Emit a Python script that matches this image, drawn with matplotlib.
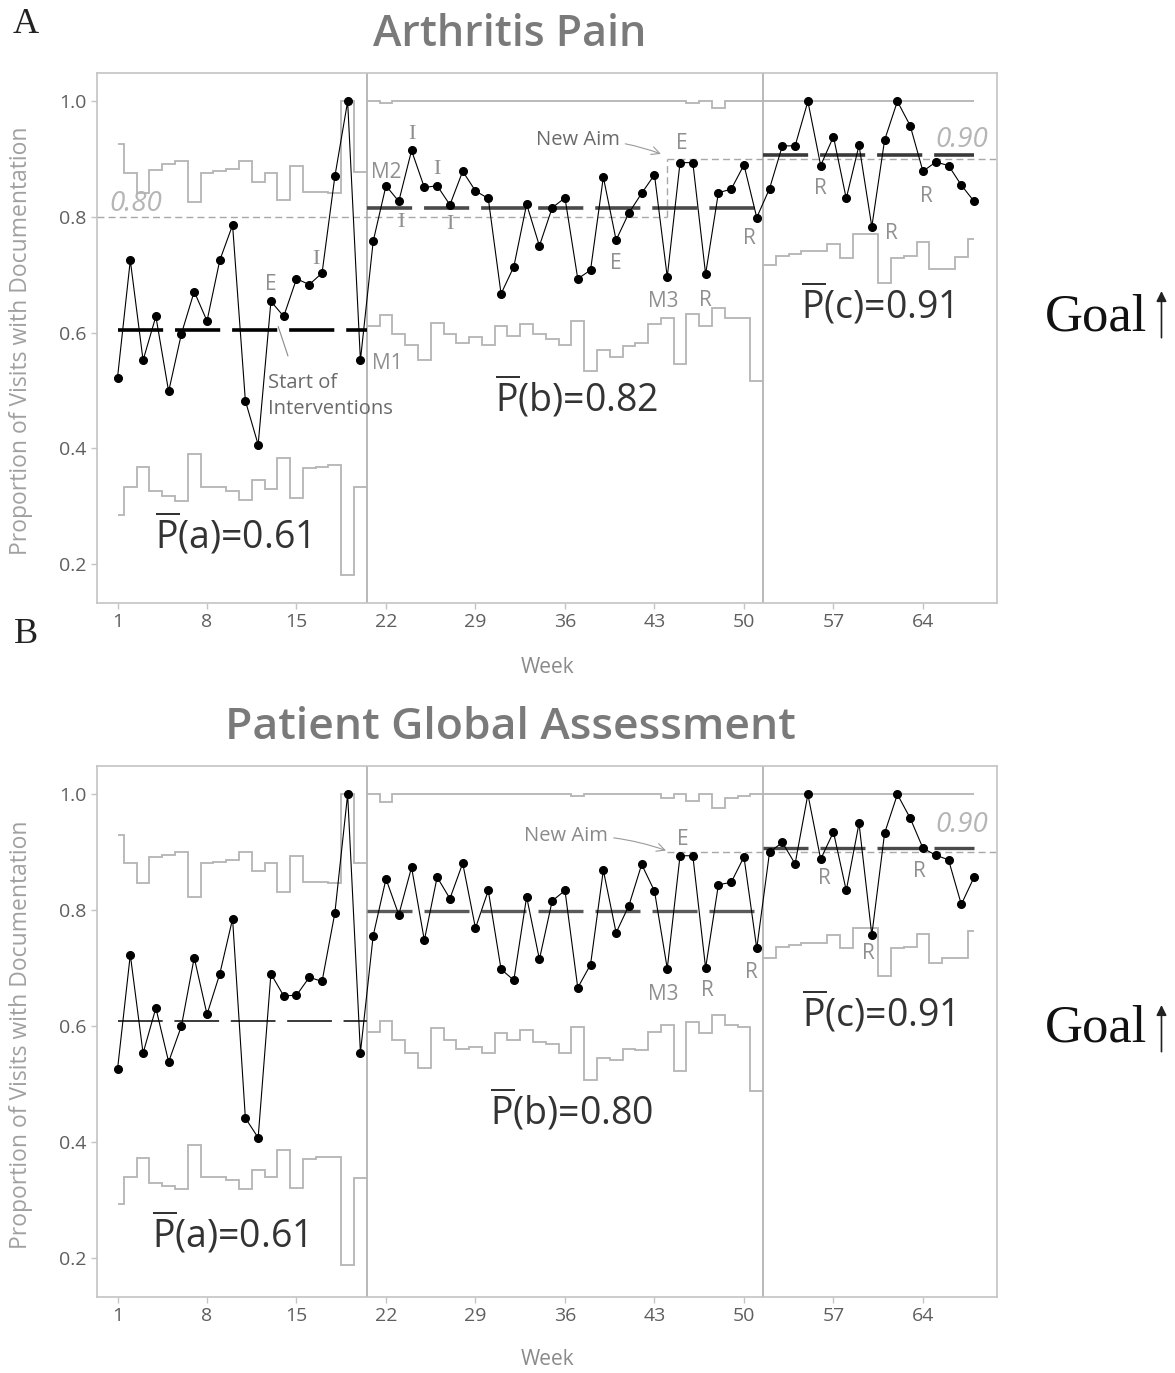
import matplotlib
matplotlib.use("Agg")
import matplotlib.pyplot as plt

# ---------------- data ----------------
weeks_a = list(range(1, 21))
weeks_b = list(range(21, 52))
weeks_c = list(range(52, 69))
phase_edges = [1, 20.5, 51.5, 68]
x_ticks = [1, 8, 15, 22, 29, 36, 43, 50, 57, 64]
y_ticks = [0.2, 0.4, 0.6, 0.8, 1.0]

# Panel A: Arthritis Pain
pain_a = [0.522, 0.725, 0.552, 0.628, 0.498, 0.598, 0.671, 0.620, 0.725, 0.786,
          0.482, 0.406, 0.654, 0.628, 0.693, 0.683, 0.703, 0.870, 1.000, 0.552]
pain_b = [0.758, 0.854, 0.827, 0.915, 0.851, 0.854, 0.821, 0.879, 0.845, 0.832,
          0.667, 0.714, 0.822, 0.750, 0.816, 0.833, 0.693, 0.708, 0.869, 0.760,
          0.807, 0.841, 0.873, 0.696, 0.894, 0.894, 0.701, 0.842, 0.848, 0.890, 0.799]
pain_c = [0.849, 0.923, 0.923, 1.000, 0.889, 0.939, 0.832, 0.924, 0.783, 0.933,
          1.000, 0.958, 0.879, 0.895, 0.889, 0.855, 0.827]
pain_ucl_a = [0.927, 0.876, 0.841, 0.882, 0.891, 0.897, 0.826, 0.876, 0.879, 0.883,
              0.897, 0.861, 0.876, 0.830, 0.888, 0.844, 0.844, 0.841, 1.000, 0.877]
pain_lcl_a = [0.284, 0.332, 0.368, 0.326, 0.317, 0.308, 0.390, 0.332, 0.332, 0.326,
              0.311, 0.344, 0.329, 0.383, 0.314, 0.365, 0.367, 0.370, 0.180, 0.333]
pain_ucl_b = [1.000, 0.998, 1.000, 1.000, 1.000, 1.000, 1.000, 1.000, 1.000, 1.000,
              1.000, 1.000, 1.000, 1.000, 1.000, 1.000, 1.000, 1.000, 1.000, 1.000,
              1.000, 1.000, 1.000, 1.000, 1.000, 0.998, 1.000, 0.988, 1.000, 1.000, 1.000]
pain_lcl_b = [0.612, 0.631, 0.597, 0.579, 0.552, 0.617, 0.597, 0.582, 0.592, 0.579,
              0.612, 0.594, 0.615, 0.597, 0.588, 0.579, 0.620, 0.534, 0.570, 0.558,
              0.576, 0.582, 0.615, 0.626, 0.546, 0.632, 0.612, 0.643, 0.626, 0.626, 0.516]
pain_ucl_c = [1.000] * 17
pain_lcl_c = [0.717, 0.733, 0.736, 0.741, 0.741, 0.754, 0.729, 0.770, 0.770, 0.686,
              0.729, 0.733, 0.757, 0.710, 0.710, 0.731, 0.762]
pain_center = [0.605, 0.815, 0.908]
pain_pbar = ["0.61", "0.82", "0.91"]

# Panel B: Patient Global Assessment
pga_a = [0.525, 0.723, 0.553, 0.631, 0.538, 0.600, 0.718, 0.620, 0.690, 0.785,
         0.441, 0.407, 0.690, 0.652, 0.653, 0.684, 0.677, 0.795, 1.000, 0.554]
pga_b = [0.756, 0.854, 0.792, 0.874, 0.748, 0.857, 0.820, 0.881, 0.769, 0.834,
         0.698, 0.679, 0.823, 0.715, 0.816, 0.834, 0.666, 0.706, 0.869, 0.761,
         0.808, 0.879, 0.833, 0.699, 0.894, 0.894, 0.700, 0.844, 0.848, 0.892, 0.734]
pga_c = [0.900, 0.917, 0.880, 1.000, 0.888, 0.935, 0.834, 0.950, 0.757, 0.933,
         1.000, 0.959, 0.907, 0.895, 0.887, 0.810, 0.857]
pga_ucl_a = [0.929, 0.882, 0.847, 0.891, 0.895, 0.901, 0.823, 0.882, 0.883, 0.887,
             0.901, 0.867, 0.881, 0.832, 0.894, 0.849, 0.849, 0.847, 1.000, 0.882]
pga_lcl_a = [0.293, 0.340, 0.372, 0.328, 0.324, 0.318, 0.395, 0.339, 0.339, 0.334,
             0.318, 0.352, 0.339, 0.386, 0.321, 0.371, 0.373, 0.374, 0.188, 0.338]
pga_ucl_b = [1.000, 0.987, 1.000, 1.000, 1.000, 1.000, 1.000, 1.000, 1.000, 1.000,
             1.000, 1.000, 1.000, 1.000, 1.000, 1.000, 0.997, 1.000, 1.000, 1.000,
             1.000, 1.000, 1.000, 0.994, 1.000, 0.989, 1.000, 0.977, 0.994, 0.997, 1.000]
pga_lcl_b = [0.590, 0.609, 0.575, 0.554, 0.528, 0.596, 0.575, 0.560, 0.563, 0.554,
             0.587, 0.575, 0.593, 0.572, 0.568, 0.553, 0.599, 0.507, 0.545, 0.541,
             0.560, 0.558, 0.590, 0.602, 0.522, 0.607, 0.587, 0.619, 0.602, 0.599, 0.488]
pga_ucl_c = [1.000] * 17
pga_lcl_c = [0.717, 0.736, 0.740, 0.743, 0.743, 0.757, 0.734, 0.770, 0.770, 0.687,
             0.734, 0.737, 0.758, 0.708, 0.718, 0.718, 0.764]
pga_center = [0.609, 0.798, 0.907]
pga_pbar = ["0.61", "0.80", "0.91"]

old_aim = 0.80
new_aim = 0.90
new_aim_week = 44

# ---------------- style ----------------
FONT = ["Open Sans", "DejaVu Sans"]
SERIF = ["Liberation Serif", "DejaVu Serif"]
plt.rcParams["font.family"] = FONT
plt.rcParams["mathtext.fontset"] = "custom"
plt.rcParams["mathtext.rm"] = "Open Sans"
plt.rcParams["mathtext.it"] = "Open Sans:italic"
plt.rcParams["mathtext.bf"] = "Open Sans:bold"
LIMIT_C = "#b4b4b4"
FRAME_C = "#c4c4c4"
NOTE_C = "#8f8f8f"
TICK_C = "#5f5f5f"

fig = plt.figure(figsize=(11.75, 13.73), dpi=100)
ax_a = fig.add_axes([0.0826, 0.5608, 0.766, 0.386])
ax_b = fig.add_axes([0.0826, 0.0554, 0.766, 0.3867])


def phase_edges_for(weeks, lo, hi):
    return [lo] + [w + 0.5 for w in weeks[:-1]] + [hi]


def draw_panel(ax, props, ucls, lcls, centers, center_styles):
    all_weeks = [weeks_a, weeks_b, weeks_c]
    for i, wk in enumerate(all_weeks):
        edges = phase_edges_for(wk, phase_edges[i], phase_edges[i + 1])
        ax.stairs(ucls[i], edges, baseline=None, color=LIMIT_C, lw=1.3, zorder=2)
        ax.stairs(lcls[i], edges, baseline=None, color=LIMIT_C, lw=1.3, zorder=2)
        col, lw, dash = center_styles[i]
        ax.plot([phase_edges[i], phase_edges[i + 1]], [centers[i]] * 2,
                color=col, lw=lw, dashes=dash, zorder=3, solid_capstyle="butt",
                dash_capstyle="butt")
    xs = weeks_a + weeks_b + weeks_c
    ys = props[0] + props[1] + props[2]
    ax.plot(xs, ys, color="black", lw=0.8, zorder=4)
    ax.plot(xs, ys, ls="none", marker="o", ms=5.5, color="black", zorder=5)
    for b in phase_edges[1:3]:
        ax.axvline(b, color="#a5a5a5", lw=1.1, zorder=1)
    ax.set_xlim(-0.6, 69.8)
    ax.set_ylim(0.132, 1.049)
    ax.set_xticks(x_ticks)
    ax.set_yticks(y_ticks)
    ax.set_yticklabels([f"{t:.1f}" for t in y_ticks])
    ax.tick_params(axis="both", colors=FRAME_C, labelcolor=TICK_C, labelsize=14,
                   length=4, width=1)
    for s in ax.spines.values():
        s.set_color(FRAME_C)
        s.set_linewidth(1.2)


def pbar_label(ax, x, y, letter, val):
    ax.text(x, y, r"$\overline{\mathrm{P}}$(" + letter + ")=" + val, fontsize=27,
            color="#333333", ha="center", va="center", zorder=6)


def note(ax, x, y, s, size=14, color=NOTE_C, family=None, **kw):
    ax.text(x, y, s, fontsize=size, color=color, ha="center", va="center",
            family=family if family else FONT, zorder=6, **kw)


# ---- Panel A ----
draw_panel(ax_a, [pain_a, pain_b, pain_c], [pain_ucl_a, pain_ucl_b, pain_ucl_c],
           [pain_lcl_a, pain_lcl_b, pain_lcl_c], pain_center,
           [("black", 2.6, (12.5, 3.3)), ("#4a4a4a", 2.6, (12.5, 3.3)),
            ("#3a3a3a", 2.6, (12.5, 3.3))])
tgt = dict(color="#a8a8a8", lw=1.0, dashes=(5, 3), zorder=1)
ax_a.plot([-0.6, new_aim_week], [old_aim, old_aim], **tgt)
ax_a.plot([new_aim_week, new_aim_week], [old_aim, new_aim], **tgt)
ax_a.plot([new_aim_week, 69.8], [new_aim, new_aim], **tgt)
note(ax_a, 2.4, 0.822, "0.80", size=20, color="#b5b5b5", style="italic")
note(ax_a, 67.0, 0.933, "0.90", size=20, color="#b5b5b5", style="italic")
note(ax_a, 13.0, 0.683, "E", size=15)
note(ax_a, 16.5, 0.727, "I", family=SERIF, size=16)
ax_a.text(12.75, 0.49, "Start of\nInterventions", fontsize=14.5, color="#6a6a6a",
          ha="left", va="center", linespacing=1.4, zorder=6)
ax_a.annotate("", xy=(13.5, 0.615), xytext=(14.4, 0.555),
              arrowprops=dict(arrowstyle="-", color="#8a8a8a", lw=0.8))
note(ax_a, 22.1, 0.546, "M1", size=15)
note(ax_a, 22.0, 0.877, "M2", size=15)
note(ax_a, 24.0, 0.942, "I", family=SERIF, size=16)
note(ax_a, 23.2, 0.790, "I", family=SERIF, size=16)
note(ax_a, 26.0, 0.882, "I", family=SERIF, size=16)
note(ax_a, 27.0, 0.787, "I", family=SERIF, size=16)
ax_a.annotate("New Aim", xy=(43.5, 0.909), xytext=(37.0, 0.933), fontsize=14.5,
              color="#6a6a6a", ha="center", va="center",
              arrowprops=dict(arrowstyle="->", color="#9a9a9a", lw=0.8,
                              connectionstyle="arc3,rad=-0.1",
                              shrinkA=2, shrinkB=0))
note(ax_a, 45.1, 0.927, "E", size=15)
note(ax_a, 40.0, 0.719, "E", size=15)
note(ax_a, 43.7, 0.653, "M3", size=15)
note(ax_a, 47.0, 0.656, "R", size=15)
note(ax_a, 50.4, 0.763, "R", size=15)
note(ax_a, 56.0, 0.849, "R", size=15)
note(ax_a, 61.5, 0.772, "R", size=15)
note(ax_a, 64.3, 0.835, "R", size=15)
pbar_label(ax_a, 10.0, 0.250, "a", pain_pbar[0])
pbar_label(ax_a, 36.9, 0.488, "b", pain_pbar[1])
pbar_label(ax_a, 60.4, 0.648, "c", pain_pbar[2])

# ---- Panel B ----
draw_panel(ax_b, [pga_a, pga_b, pga_c], [pga_ucl_a, pga_ucl_b, pga_ucl_c],
           [pga_lcl_a, pga_lcl_b, pga_lcl_c], pga_center,
           [("#3a3a3a", 1.4, (23, 6)), ("#5a5a5a", 2.4, (13.5, 3.6)),
            ("#4a4a4a", 2.4, (13.5, 3.6))])
ax_b.plot([new_aim_week, 69.8], [new_aim, new_aim], **tgt)
note(ax_b, 67.0, 0.947, "0.90", size=20, color="#b5b5b5", style="italic")
ax_b.annotate("New Aim", xy=(43.9, 0.903), xytext=(36.1, 0.928), fontsize=14.5,
              color="#8a8a8a", ha="center", va="center",
              arrowprops=dict(arrowstyle="->", color="#9a9a9a", lw=0.8,
                              connectionstyle="arc3,rad=-0.1",
                              shrinkA=2, shrinkB=0))
note(ax_b, 45.2, 0.922, "E", size=15)
note(ax_b, 43.7, 0.655, "M3", size=15)
note(ax_b, 47.1, 0.661, "R", size=15)
note(ax_b, 50.6, 0.692, "R", size=15)
note(ax_b, 56.3, 0.855, "R", size=15)
note(ax_b, 59.7, 0.725, "R", size=15)
note(ax_b, 63.7, 0.867, "R", size=15)
pbar_label(ax_b, 9.75, 0.242, "a", pga_pbar[0])
pbar_label(ax_b, 36.5, 0.455, "b", pga_pbar[1])
pbar_label(ax_b, 60.5, 0.623, "c", pga_pbar[2])

# ---- figure-level text ----
fig.text(0.434, 0.975, "Arthritis Pain", fontsize=31, color="#7a7a7a",
         weight="semibold", ha="center", va="center")
fig.text(0.434, 0.4705, "Patient Global Assessment", fontsize=32, color="#7a7a7a",
         weight="semibold", ha="center", va="center")
fig.text(0.022, 0.982, "A", fontsize=26, family=SERIF, ha="center", va="center",
         color="#222222")
fig.text(0.022, 0.538, "B", fontsize=26, family=SERIF, ha="center", va="center",
         color="#222222")
fig.text(0.466, 0.514, "Week", fontsize=15, color="#8a8a8a", ha="center", va="center")
fig.text(0.466, 0.0095, "Week", fontsize=15, color="#8a8a8a", ha="center", va="center")
fig.text(0.018, 0.752, "Proportion of Visits with Documentation", fontsize=16.5,
         color="#a0a0a0", rotation=90, ha="center", va="center")
fig.text(0.018, 0.246, "Proportion of Visits with Documentation", fontsize=16.5,
         color="#a0a0a0", rotation=90, ha="center", va="center")
for yc, ytip, ybot in [(0.769, 0.790, 0.752), (0.251, 0.270, 0.232)]:
    fig.text(0.933, yc, "Goal", fontsize=38, family=SERIF, ha="center",
             va="center", color="#111111")
    fig.patches.append(matplotlib.patches.FancyArrowPatch(
        (0.9885, ybot), (0.9885, ytip), transform=fig.transFigure,
        arrowstyle="-|>,head_length=6,head_width=3", color="#222222", lw=1.2,
        mutation_scale=1))

fig.savefig("out.png", dpi=100)
